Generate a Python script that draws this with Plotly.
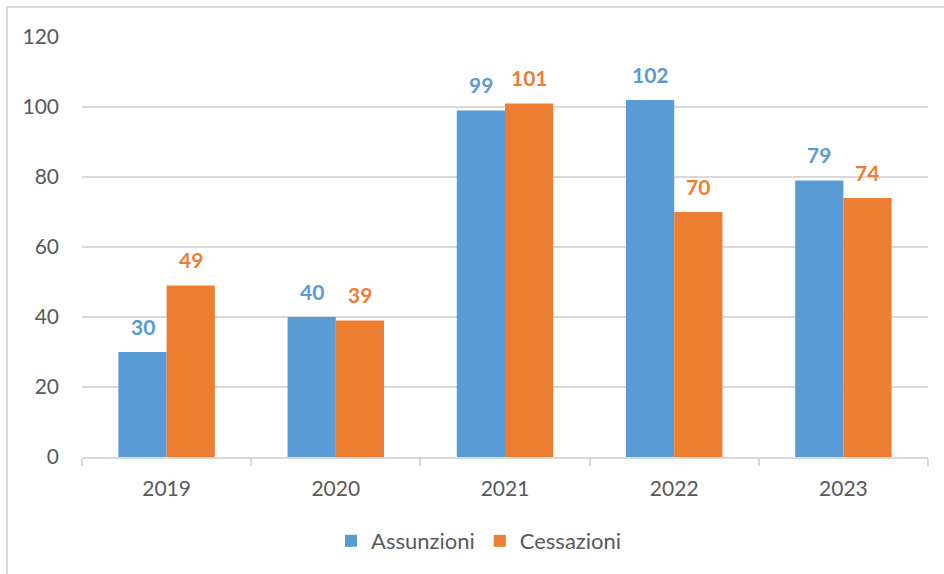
import plotly.graph_objects as go

years = ["2019", "2020", "2021", "2022", "2023"]
assunzioni = [30, 40, 99, 102, 79]
cessazioni = [49, 39, 101, 70, 74]

BLUE = "#5B9BD5"
ORANGE = "#ED7D31"
GRAY = "#595959"
FONT = "Lato, 'Open Sans', sans-serif"

fig = go.Figure()
fig.add_trace(go.Bar(x=years, y=assunzioni, name="Assunzioni",
                     marker=dict(color=BLUE, line=dict(width=0))))
fig.add_trace(go.Bar(x=years, y=cessazioni, name="Cessazioni",
                     marker=dict(color=ORANGE, line=dict(width=0))))

W, H = 944, 574
L, R, T, B = 82, 16, 37, 117
pw, ph = W - L - R, H - T - B

annotations = []
for series, color, shift in ((assunzioni, BLUE, -24), (cessazioni, ORANGE, 24)):
    for i, v in enumerate(series):
        annotations.append(dict(x=i, y=v, xref="x", yref="y", text=str(v), showarrow=False,
                                xshift=shift, yshift=26, yanchor="middle",
                                font=dict(color=color, size=21, family=FONT, weight="bold")))

fig.update_layout(
    width=W, height=H,
    margin=dict(l=L, r=R, t=T, b=B),
    paper_bgcolor="white", plot_bgcolor="white",
    barmode="group", bargap=0.43, bargroupgap=0,
    font=dict(family=FONT, color=GRAY, size=21),
    showlegend=True,
    legend=dict(orientation="h", x=0.5 - 26 / pw, xanchor="center", y=(457 - 541) / ph, yanchor="middle",
                font=dict(size=22, color=GRAY), traceorder="normal"),
    xaxis=dict(type="category", range=[-0.5, len(years) - 0.5], showgrid=False, showline=True,
               linecolor="#D9D9D9", linewidth=2,
               ticks="outside", tickson="boundaries", ticklen=7, tickcolor="#D9D9D9", tickwidth=2,
               ticklabelstandoff=12, tickangle=0, tickfont=dict(size=21, color=GRAY), fixedrange=True),
    yaxis=dict(range=[0, 120], dtick=20, showgrid=True, gridcolor="#D9D9D9", gridwidth=2,
               zeroline=False, showline=False, ticks="", ticklabelstandoff=22,
               tickfont=dict(size=21, color=GRAY), fixedrange=True),
    annotations=annotations,
    shapes=[dict(type="rect", xref="paper", yref="paper",
                 x0=(7 - L) / pw, x1=(W + 20 - L) / pw,
                 y0=-(H + 20 - T - ph) / ph, y1=1 + (T - 7) / ph,
                 line=dict(color="#D9D9D9", width=2), fillcolor="rgba(0,0,0,0)", layer="below")],
)

fig.write_html("out.html", config={"displayModeBar": False},
               post_script="document.body.style.margin='0';document.body.style.overflow='hidden';")
